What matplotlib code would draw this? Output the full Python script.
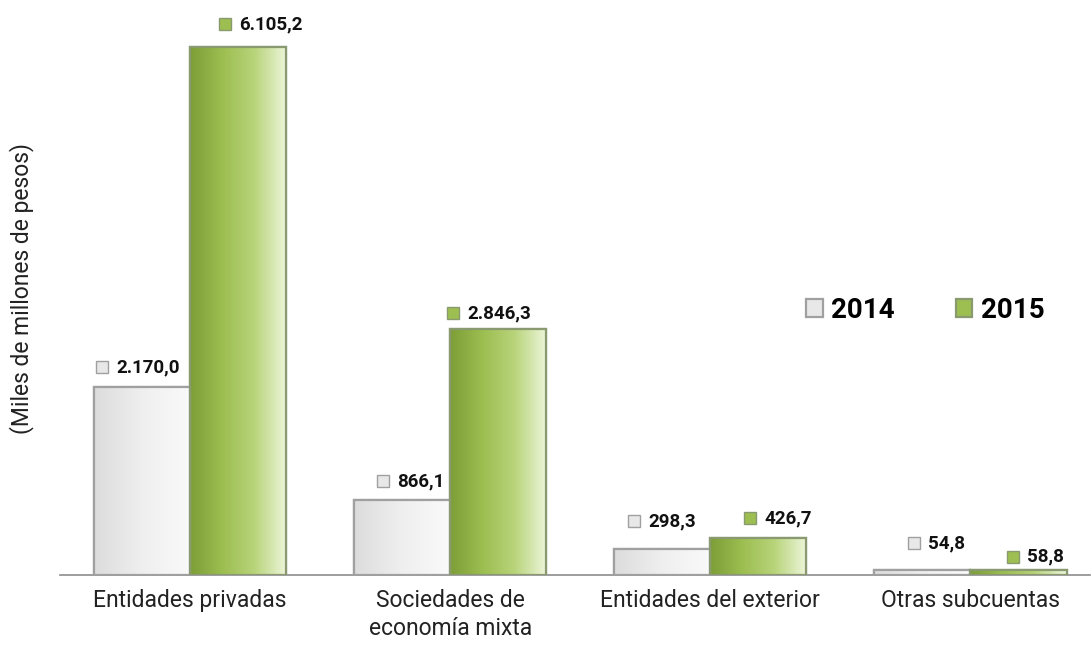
import matplotlib
matplotlib.use("Agg")
import matplotlib.pyplot as plt
import numpy as np
from matplotlib.colors import LinearSegmentedColormap
from matplotlib.transforms import offset_copy

# data
categories = ["Entidades privadas", "Sociedades de\neconomía mixta",
              "Entidades del exterior", "Otras subcuentas"]
years = ["2014", "2015"]
vals_2014 = [2170.0, 866.1, 298.3, 54.8]
vals_2015 = [6105.2, 2846.3, 426.7, 58.8]

# label nudges (pixels): marker centre vs bar centre, height above bar top
LBL_DX = {"2014": [-40, -19, -28, -8], "2015": [-13, -45, -8, -5]}
LBL_DY = {"2014": [20, 19, 28, 27], "2015": [23, 16, 20, 13]}

GREY_CM = LinearSegmentedColormap.from_list("g", ["#dcdcdc", "#efefef", "#fafafa"])
GREEN_CM = LinearSegmentedColormap.from_list("v", ["#7d9d37", "#9cbe50", "#b8d47a", "#eef6dc"])
STYLE = {"2014": dict(cm=GREY_CM, fc="#e8e8e8", ec="#a0a0a0"),
         "2015": dict(cm=GREEN_CM, fc="#9dbf52", ec="#8a9a70")}

FONT = ["Roboto", "DejaVu Sans"]
plt.rcParams["font.family"] = FONT

W, H = 1091, 648
fig = plt.figure(figsize=(W / 100, H / 100), dpi=100)
ax = fig.add_axes([60 / W, 73 / H, 1030 / W, 555 / H])

x = np.arange(len(categories))
bw = 0.37
grad = np.linspace(0, 1, 256).reshape(1, -1)

for i, (yr, vals) in enumerate(zip(years, [vals_2014, vals_2015])):
    st = STYLE[yr]
    bars = ax.bar(x + (i - 0.5) * bw, vals, bw, color=st["fc"], edgecolor=st["ec"],
                  linewidth=1.6, label=yr, zorder=2)
    for j, b in enumerate(bars):
        x0, y0, w, h = b.get_x(), b.get_y(), b.get_width(), b.get_height()
        im = ax.imshow(grad, cmap=st["cm"], extent=(x0, x0 + w, y0, y0 + h),
                       aspect="auto", zorder=2.5, interpolation="bicubic")
        im.set_clip_path(b)
        # outline over the gradient
        ax.bar(x0 + w / 2, h, w, fill=False, edgecolor=st["ec"], linewidth=1.6, zorder=3)
        # value label with small square marker
        cx = x0 + w / 2
        tr = offset_copy(ax.transData, fig=fig, x=LBL_DX[yr][j], y=LBL_DY[yr][j], units="dots")
        ax.plot([cx], [y0 + h], marker="s", ms=8.5, mfc=st["fc"], mec=st["ec"], mew=1.0,
                transform=tr, clip_on=False, zorder=4)
        ax.annotate(f"{vals[j]:,.1f}".replace(",", "X").replace(".", ",").replace("X", "."),
                    (cx, y0 + h), xytext=(LBL_DX[yr][j] + 14, LBL_DY[yr][j]),
                    textcoords="offset pixels", ha="left", va="center",
                    fontsize=13.5, fontweight="bold", color="#111", zorder=4)

ax.set_xlim(-0.5, 3.46)
ax.set_ylim(0, 6420)
ax.set_xticks(x)
ax.set_xticklabels(categories, fontsize=16.5, color="#222", linespacing=1.3)
ax.tick_params(axis="x", length=0, pad=10)
ax.set_yticks([])
for s in ("top", "right", "left"):
    ax.spines[s].set_visible(False)
ax.spines["bottom"].set_color("#8c8c8c")
ax.spines["bottom"].set_linewidth(1.2)

fig.text(22 / W, 1 - 288 / H, "(Miles de millones de pesos)", rotation=90,
         ha="center", va="center", fontsize=16.5, color="#222")

leg = fig.legend(loc="center left", bbox_to_anchor=(806 / W, 1 - 310 / H), ncol=2,
                 frameon=False, prop=dict(family=FONT, size=20, weight="bold"),
                 handlelength=0.6, handleheight=0.6, handletextpad=0.3,
                 columnspacing=2.2, borderpad=0, borderaxespad=0)

fig.savefig("out.png", dpi=100)
